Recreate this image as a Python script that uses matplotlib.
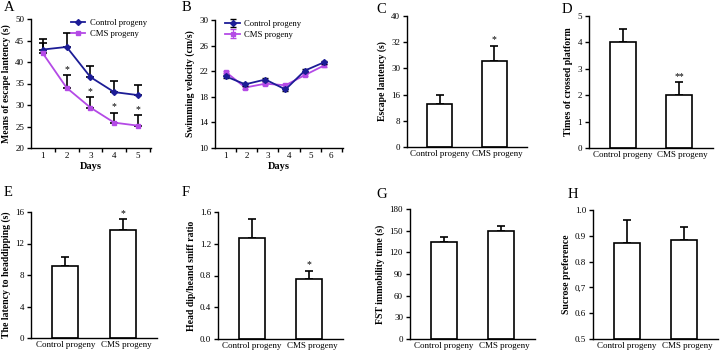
import numpy as np
import matplotlib
matplotlib.use('Agg')
from matplotlib import pyplot as plt

plt.rcParams['font.family'] = ['Liberation Serif', 'DejaVu Serif']

# panel A: escape latency over days
days_a = [1, 2, 3, 4, 5]
ctrl_a = [42.9, 43.5, 36.5, 33.0, 32.3]
ctrl_a_err = [2.4, 3.3, 2.5, 2.5, 2.4]
cms_a = [42.0, 34.0, 29.4, 25.9, 25.2]
cms_a_err = [2.4, 2.9, 2.4, 2.3, 2.4]
stars_a = ['', '*', '*', '*', '*']

# panel B: swimming velocity (points drift off the category centres in the original)
days_b = [1, 2, 3, 4, 5, 6]
xpos_b = [1.0, 1.93, 2.88, 3.83, 4.75, 5.66]
ctrl_b = [21.2, 19.95, 20.7, 19.15, 22.1, 23.4]
ctrl_b_err = [0.25, 0.25, 0.3, 0.25, 0.25, 0.2]
cms_b = [21.9, 19.45, 20.05, 19.8, 21.4, 22.9]
cms_b_err = [0.2, 0.2, 0.2, 0.2, 0.2, 0.2]

groups = ['Control progeny', 'CMS progeny']

# bar panels C-H
c_vals, c_err = [13.0, 26.4], [2.9, 4.5]
d_vals, d_err = [4.0, 2.0], [0.5, 0.5]
e_vals, e_err = [9.15, 13.7], [1.1, 1.4]
f_vals, f_err = [1.27, 0.75], [0.24, 0.11]
g_vals, g_err = [134.5, 150.0], [6.5, 7.0]
h_vals, h_err = [0.874, 0.884], [0.086, 0.05]

c_ticks, c_labels = [0, 8, 16, 24, 32, 40], ['0', '8', '16', '30', '32', '40']
d_ticks = [0, 1, 2, 3, 4, 5]
e_ticks = [0, 4, 8, 12, 16]
f_ticks, f_labels = [0, 0.4, 0.8, 1.2, 1.6], ['0.0', '0.4', '0.8', '1.2', '1.6']
g_ticks = [0, 30, 60, 90, 120, 150, 180]
h_ticks, h_labels = [0.5, 0.6, 0.7, 0.8, 0.9, 1.0], ['0.5', '0.6', '0,7', '0.8', '0.9', '1.0']

NAVY = '#1c1c96'
VIOLET = '#b44ae6'
W, H = 720, 352


def box(l, r, t, b):
    return [l / W, (H - b) / H, (r - l) / W, (b - t) / H]


def style(ax):
    ax.spines['top'].set_visible(False)
    ax.spines['right'].set_visible(False)
    for s in ['left', 'bottom']:
        ax.spines[s].set_linewidth(1.0)
    ax.tick_params(axis='y', direction='out', length=3, width=1.0, labelsize=6.5, pad=2)
    ax.tick_params(axis='x', labelsize=6.5)


def bar_panel(ax, vals, errs, ylim, ticks, labels, ylabel, stars, xlim=(-0.6, 1.6)):
    x = np.arange(len(vals))
    ax.bar(x, np.array(vals) - ylim[0], bottom=ylim[0], width=0.45,
           color='white', edgecolor='black', linewidth=1.2, zorder=2)
    ax.errorbar(x, vals, yerr=[np.zeros(len(errs)), errs], fmt='none',
                ecolor='black', elinewidth=1.2, capsize=3, capthick=1.2, zorder=1)
    for xi, v, e, s in zip(x, vals, errs, stars):
        if s:
            ax.annotate(s, (xi, v + e), xytext=(0, 1), textcoords='offset points',
                        ha='center', va='bottom', fontsize=7)
    ax.set_ylim(*ylim)
    ax.set_xlim(*xlim)
    ax.set_yticks(ticks)
    ax.set_yticklabels(labels if labels else [str(t) for t in ticks])
    ax.set_xticks(x + np.array([0.0, 0.06]))
    ax.set_xticklabels(groups)
    ax.tick_params(axis='x', length=0, pad=2.5)
    ax.set_ylabel(ylabel, fontsize=7, fontweight='bold', labelpad=3)
    style(ax)


fig = plt.figure(figsize=(7.2, 3.52), dpi=100)

# A
ax = fig.add_axes(box(31, 151, 19, 148))
ax.errorbar(days_a, ctrl_a, yerr=[np.zeros(5), ctrl_a_err], fmt='none',
            ecolor='black', elinewidth=1.2, capsize=3, capthick=1.2, zorder=1)
ax.errorbar(days_a, cms_a, yerr=[np.zeros(5), cms_a_err], fmt='none',
            ecolor='black', elinewidth=1.2, capsize=3, capthick=1.2, zorder=1)
ax.plot(days_a, ctrl_a, color=NAVY, marker='D', ms=3, lw=1.3, label='Control progeny', zorder=3)
ax.plot(days_a, cms_a, color=VIOLET, marker='s', ms=3.2, lw=1.3, label='CMS progeny', zorder=3)
for d, v, e, s in zip(days_a, cms_a, cms_a_err, stars_a):
    if s:
        ax.annotate(s, (d, v + e), xytext=(0, 1), textcoords='offset points',
                    ha='center', va='bottom', fontsize=7)
ax.set_xlim(0.5, 5.55)
ax.set_ylim(20, 50)
ax.set_yticks([20, 25, 30, 35, 40, 45, 50])
ax.set_xticks(days_a)
ax.set_xticks(np.arange(1.5, 6, 1), minor=True)
ax.tick_params(axis='x', which='major', length=0, pad=3)
ax.tick_params(axis='x', which='minor', length=3, width=1.0, direction='out')
ax.set_xlabel('Days', fontsize=7.5, fontweight='bold', labelpad=1)
ax.set_ylabel('Means of escape lantency (s)', fontsize=7, fontweight='bold', labelpad=3)
style(ax)
ax.legend(loc='upper right', bbox_to_anchor=(1.03, 1.06), frameon=False, fontsize=6.2,
          handlelength=1.7, labelspacing=0.3, handletextpad=0.5)

# B
ax = fig.add_axes(box(215, 343, 20, 148))
ax.errorbar(xpos_b, ctrl_b, yerr=ctrl_b_err, color=NAVY, marker='D', ms=3, lw=1.3,
            ecolor='black', elinewidth=0.8, capsize=2, label='Control progeny', zorder=3)
ax.errorbar(xpos_b, cms_b, yerr=cms_b_err, color=VIOLET, marker='s', ms=3.2, lw=1.3,
            ecolor=VIOLET, elinewidth=0.8, capsize=2, label='CMS progeny', zorder=2)
ax.set_xlim(0.5, 6.55)
ax.set_ylim(10, 30)
ax.set_yticks([10, 14, 18, 22, 26, 30])
ax.set_xticks(days_b)
ax.set_xticks(np.arange(1.5, 7, 1), minor=True)
ax.tick_params(axis='x', which='major', length=0, pad=3)
ax.tick_params(axis='x', which='minor', length=3, width=1.0, direction='out')
ax.set_xlabel('Days', fontsize=7.5, fontweight='bold', labelpad=1)
ax.set_ylabel('Swimming velocity (cm/s)', fontsize=7, fontweight='bold', labelpad=3)
style(ax)
ax.legend(loc='upper left', bbox_to_anchor=(0.02, 1.06), frameon=False, fontsize=6.2,
          handlelength=1.7, labelspacing=0.3, handletextpad=0.5)

# C - H
ax = fig.add_axes(box(407, 527, 16, 147))
bar_panel(ax, c_vals, c_err, (0, 40), c_ticks, c_labels, 'Escape lantency (s)', ['', '*'])
ax = fig.add_axes(box(589, 713, 16, 148))
bar_panel(ax, d_vals, d_err, (0, 5), d_ticks, None, 'Times of crossed platform', ['', '**'])
ax = fig.add_axes(box(31, 157, 212, 338))
bar_panel(ax, e_vals, e_err, (0, 16), e_ticks, None, 'The latency to headdipping (s)', ['', '*'])
ax = fig.add_axes(box(218, 343, 212, 339))
bar_panel(ax, f_vals, f_err, (0, 1.6), f_ticks, f_labels, 'Head dip/heand sniff ratio', ['', '*'])
ax = fig.add_axes(box(410, 535, 209, 339))
bar_panel(ax, g_vals, g_err, (0, 180), g_ticks, None, 'FST immobility time (s)', ['', ''])
ax = fig.add_axes(box(593, 718, 210, 339))
bar_panel(ax, h_vals, h_err, (0.5, 1.0), h_ticks, h_labels, 'Sucrose preference', ['', ''])

# panel letters
for lab, x, y in [('A', 4, 1), ('B', 182, 1), ('C', 376, 3), ('D', 562, 3),
                  ('E', 4, 186), ('F', 182, 186), ('G', 376, 188), ('H', 568, 188)]:
    fig.text(x / W, 1 - y / H, lab, fontsize=10.5, va='top', ha='left')

fig.savefig('out.png', dpi=100)
